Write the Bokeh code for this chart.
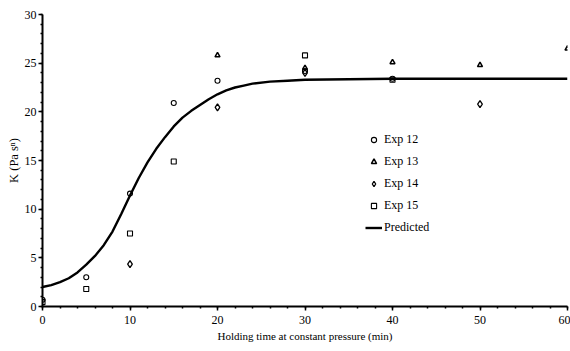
from bokeh.plotting import figure
from bokeh.models import FixedTicker, Legend, LegendItem, Range1d
from bokeh.embed import file_html
from bokeh.resources import INLINE

# Data
exp12_x = [0, 5, 10, 15, 20, 30, 40]
exp12_y = [0.7, 3.0, 11.6, 20.9, 23.2, 24.2, 23.4]
exp13_x = [20, 30, 40, 50, 60]
exp13_y = [25.8, 24.5, 25.1, 24.8, 26.5]
exp14_x = [10, 20, 30, 50]
exp14_y = [4.35, 20.45, 24.0, 20.8]
exp15_x = [0, 5, 10, 15, 30, 40]
exp15_y = [0.45, 1.8, 7.5, 14.9, 25.8, 23.3]
pred_x = [0, 1, 2, 3, 4, 5, 6, 7, 8, 9, 10, 11, 12, 13, 14, 15, 16, 17, 18, 19,
          20, 21, 22, 23, 24, 26, 28, 30, 35, 40, 50, 60]
pred_y = [2.0, 2.2, 2.5, 2.9, 3.5, 4.3, 5.2, 6.3, 7.7, 9.5, 11.4, 13.2, 14.8, 16.2,
          17.4, 18.5, 19.4, 20.1, 20.7, 21.3, 21.8, 22.2, 22.5, 22.7, 22.9, 23.1,
          23.2, 23.3, 23.35, 23.4, 23.4, 23.4]
x_ticks = [0, 10, 20, 30, 40, 50, 60]
y_ticks = [0, 5, 10, 15, 20, 25, 30]

FONT = "Liberation Serif"

p = figure(width=570, height=351, output_backend="svg", toolbar_location=None,
           x_range=Range1d(0, 60), y_range=Range1d(0, 30),
           min_border_left=42, min_border_right=3, min_border_top=14, min_border_bottom=45)
p.outline_line_color = None
p.xgrid.visible = False
p.ygrid.visible = False

p.xaxis.ticker = FixedTicker(ticks=x_ticks, minor_ticks=list(range(0, 61, 2)))
p.yaxis.ticker = FixedTicker(ticks=y_ticks, minor_ticks=list(range(0, 31, 1)))
for ax in (p.xaxis[0], p.yaxis[0]):
    ax.axis_line_width = 2
    ax.axis_line_color = "black"
    ax.major_tick_in = 0
    ax.major_tick_out = 4
    ax.minor_tick_in = 0
    ax.minor_tick_out = 2
    ax.major_tick_line_width = 1.5
    ax.minor_tick_line_width = 1.5
    ax.major_label_text_font = FONT
    ax.major_label_text_font_size = "12px"
    ax.major_label_text_color = "black"
    ax.axis_label_text_font = FONT
    ax.axis_label_text_font_style = "normal"
    ax.axis_label_text_color = "black"

p.xaxis.axis_label = "Holding time at constant pressure (min)"
p.xaxis.axis_label_text_font_size = "11px"
p.xaxis.major_label_standoff = 5
p.xaxis.axis_label_standoff = 3
p.yaxis.axis_label = "K (Pa s\u207F)"
p.yaxis.axis_label_text_font_size = "12.5px"
p.yaxis.major_label_standoff = 2
p.yaxis.axis_label_standoff = 1

r_pred = p.line(pred_x, pred_y, line_color="black", line_width=2.4)
r12 = p.scatter(exp12_x, exp12_y, marker="circle", size=5, fill_color=None,
                line_color="black", line_width=1.1)
r13 = p.scatter(exp13_x, exp13_y, marker="triangle", size=5, fill_color=None,
                line_color="black", line_width=1.5)
r14 = p.scatter(exp14_x, exp14_y, marker="diamond", size=7, fill_color=None,
                line_color="black", line_width=1.3)
r15 = p.scatter(exp15_x, exp15_y, marker="square", size=5, fill_color=None,
                line_color="black", line_width=1.1)

legend = Legend(items=[
    LegendItem(label="Exp 12", renderers=[r12]),
    LegendItem(label="Exp 13", renderers=[r13]),
    LegendItem(label="Exp 14", renderers=[r14]),
    LegendItem(label="Exp 15", renderers=[r15]),
    LegendItem(label="Predicted", renderers=[r_pred]),
], location=(323, 69))
legend.border_line_color = None
legend.background_fill_color = None
legend.padding = 0
legend.margin = 0
legend.spacing = 2
legend.glyph_width = 17
legend.glyph_height = 13
legend.label_height = 20
legend.label_standoff = 2
legend.label_text_font = FONT
legend.label_text_font_size = "12px"
legend.label_text_color = "black"
p.add_layout(legend, "center")

open("out.html", "w").write(file_html(p, INLINE))
